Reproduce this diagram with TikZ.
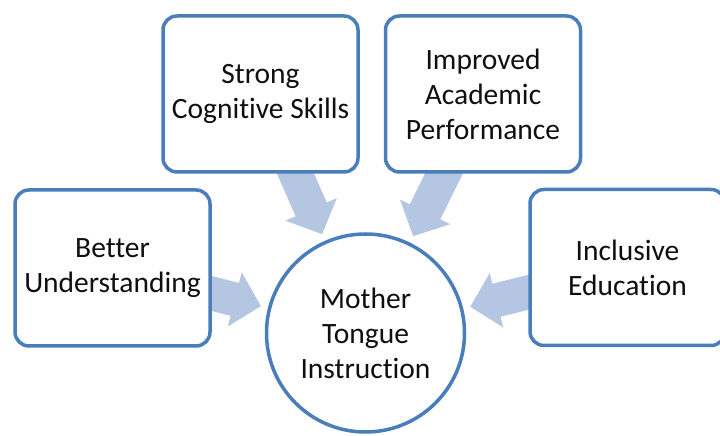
\documentclass[tikz,border=0pt]{standalone}
\usepackage{fontspec}
\setmainfont{Carlito}[Ligatures={NoCommon}]
\usetikzlibrary{calc}
\pgfdeclarelayer{background}
\pgfsetlayers{background,main}

\definecolor{edgeblue}{RGB}{74,126,187}
\definecolor{arrowblue}{RGB}{180,198,226}
\definecolor{inktext}{RGB}{15,15,15}

\tikzset{
  idea/.style={draw=edgeblue, line width=3.5pt, fill=white, rounded corners=14pt,
    minimum width=195pt, minimum height=156pt, align=center, text=inktext,
    font=\fontsize{29.5}{35}\selectfont},
  hub/.style={draw=edgeblue, line width=3.5pt, fill=white, circle, minimum size=198pt,
    inner sep=0pt, align=center, text=inktext, font=\fontsize{29.5}{35}\selectfont},
  feed/.style={fill=arrowblue},
}

% block arrow pointing from node #1 toward node #2, ending just short of it
\newcommand\feedarrow[2]{%
  \coordinate (t) at ($(#2.center)!108pt!(#1.center)$);
  \coordinate (h) at ($(t)!27pt!(#1.center)$);
  \coordinate (s) at ($(t)!95pt!(#1.center)$);
  \fill[feed] (t) -- ($(h)!28pt!90:(t)$) -- ($(h)!17pt!90:(t)$)
    -- ($(s)!17pt!90:(t)$) -- ($(s)!17pt!-90:(t)$)
    -- ($(h)!17pt!-90:(t)$) -- ($(h)!28pt!-90:(t)$) -- cycle;
}

\begin{document}
\begin{tikzpicture}[x=1pt,y=1pt]
  \useasboundingbox (0,0) rectangle (720,436);

  \node[hub] (mti) at (365.5,103) {Mother\\Tongue\\Instruction};
  \node[idea] (bu)  at (112.5,168) {Better\\Understanding};
  \node[idea] (scs) at (260.5,342) {Strong\\Cognitive Skills};
  \node[idea] (iap) at (483,342) {Improved\\Academic\\Performance};
  \node[idea] (ie)  at (627.5,168.5) {Inclusive\\Education};

  \begin{pgfonlayer}{background}
    \feedarrow{bu}{mti}
    \feedarrow{scs}{mti}
    \feedarrow{iap}{mti}
    \feedarrow{ie}{mti}
  \end{pgfonlayer}
\end{tikzpicture}
\end{document}
